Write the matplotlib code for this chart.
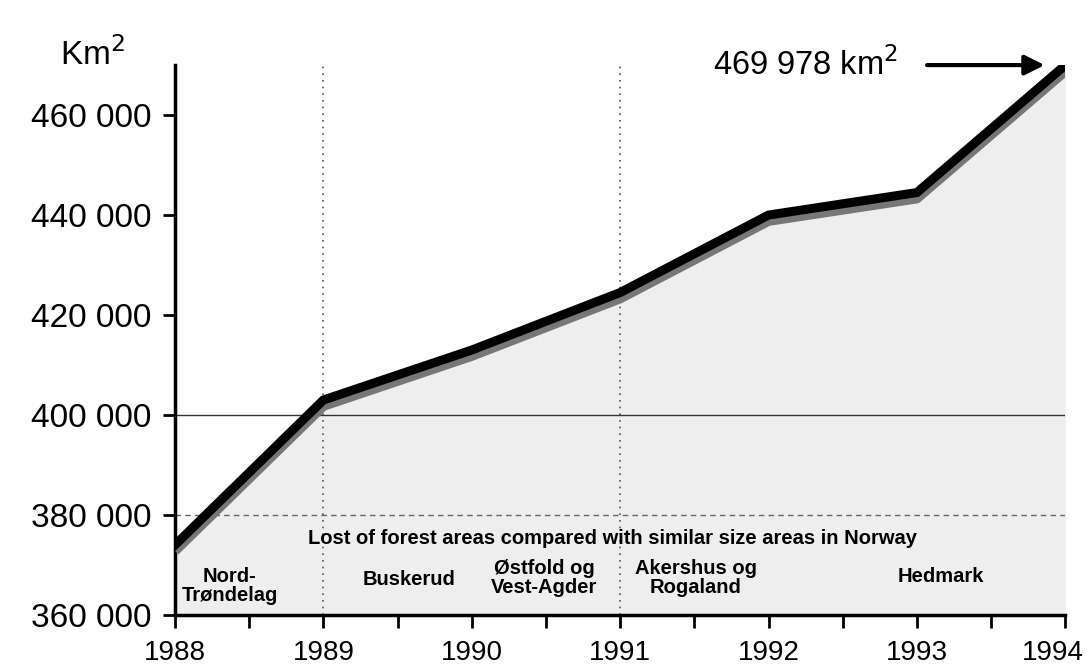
import matplotlib
matplotlib.use('Agg')
from matplotlib import pyplot as plt
from matplotlib import transforms
import numpy as np

# data
years = [1988, 1989, 1990, 1991, 1992, 1993, 1994]
area_km2 = [374000, 403000, 413000, 424500, 440000, 444500, 469978]

y_ticks = [360000, 380000, 400000, 420000, 440000, 460000]
y_ticklabels = ['360 000', '380 000', '400 000', '420 000', '440 000', '460 000']

region_names = ['Nord-\nTrøndelag', 'Buskerud', 'Østfold og\nVest-Agder',
                'Akershus og\nRogaland', 'Hedmark']
region_x = [1988.37, 1989.58, 1990.49, 1991.51, 1993.16]
region_y = [365800, 367000, 367400, 367400, 367700]

plt.rcParams['font.family'] = ['Liberation Sans', 'DejaVu Sans']

fig = plt.figure(figsize=(10.87, 6.71), dpi=100)
ax = fig.add_axes([0.161, 0.0835, 0.819, 0.8195])

# grey shading under the curve (the scan is speckled there)
ax.fill_between(years, 360000, area_km2, color='#e4e4e4', alpha=0.6, lw=0, zorder=1)

# reference lines seen on the scan
ax.axhline(400000, color='#333333', lw=1.0, zorder=2)
ax.axhline(380000, color='#666666', lw=1.0, ls=(0, (4, 3)), zorder=2)
for yr in [1989, 1991]:
    ax.axvline(yr, color='#555555', lw=1.2, ls=(0, (1, 3)), zorder=2)

# shadow + main line
ax.plot(years, np.array(area_km2) - 1200, color='#777777', lw=7, zorder=3,
        solid_capstyle='butt')
ax.plot(years, area_km2, color='black', lw=6.5, zorder=4, solid_joinstyle='miter')

ax.set_xlim(1988, 1994)
ax.set_ylim(360000, 470000)

ax.set_xticks(years)
ax.set_xticks(np.arange(1988.5, 1994, 1.0), minor=True)
ax.set_yticks(y_ticks)
ax.set_yticklabels(y_ticklabels)
ax.tick_params(axis='x', which='major', labelsize=20, length=9, width=2, pad=9)
ax.tick_params(axis='x', which='minor', length=9, width=2)
ax.tick_params(axis='y', which='major', labelsize=24, length=9, width=2, pad=8)

# last year label sits against the right edge
last = ax.get_xticklabels()[-1]
last.set_transform(last.get_transform() +
                   transforms.ScaledTranslation(-12 / 100, 0, fig.dpi_scale_trans))

for s in ['top', 'right']:
    ax.spines[s].set_visible(False)
for s in ['left', 'bottom']:
    ax.spines[s].set_linewidth(2.5)

# unit label
fig.text(0.055, 0.893, 'Km$^2$', fontsize=24, ha='left', va='bottom')

# final value with arrow
ax.text(1992.87, 470000, '469 978 km$^2$', fontsize=23.5, ha='right', va='center',
        clip_on=False)
ax.annotate('', xy=(1993.88, 470000), xytext=(1993.05, 470000),
            arrowprops=dict(arrowstyle='-|>', color='black', lw=3,
                            mutation_scale=30),
            annotation_clip=False)

# caption and region labels
ax.text(1990.95, 375300, 'Lost of forest areas compared with similar size areas in Norway',
        fontsize=14.5, fontweight='bold', ha='center', va='center')
for name, x, y in zip(region_names, region_x, region_y):
    ax.text(x, y, name, fontsize=14.5, fontweight='bold', ha='center', va='center',
            linespacing=1.05)

fig.savefig('out.png', dpi=100)
